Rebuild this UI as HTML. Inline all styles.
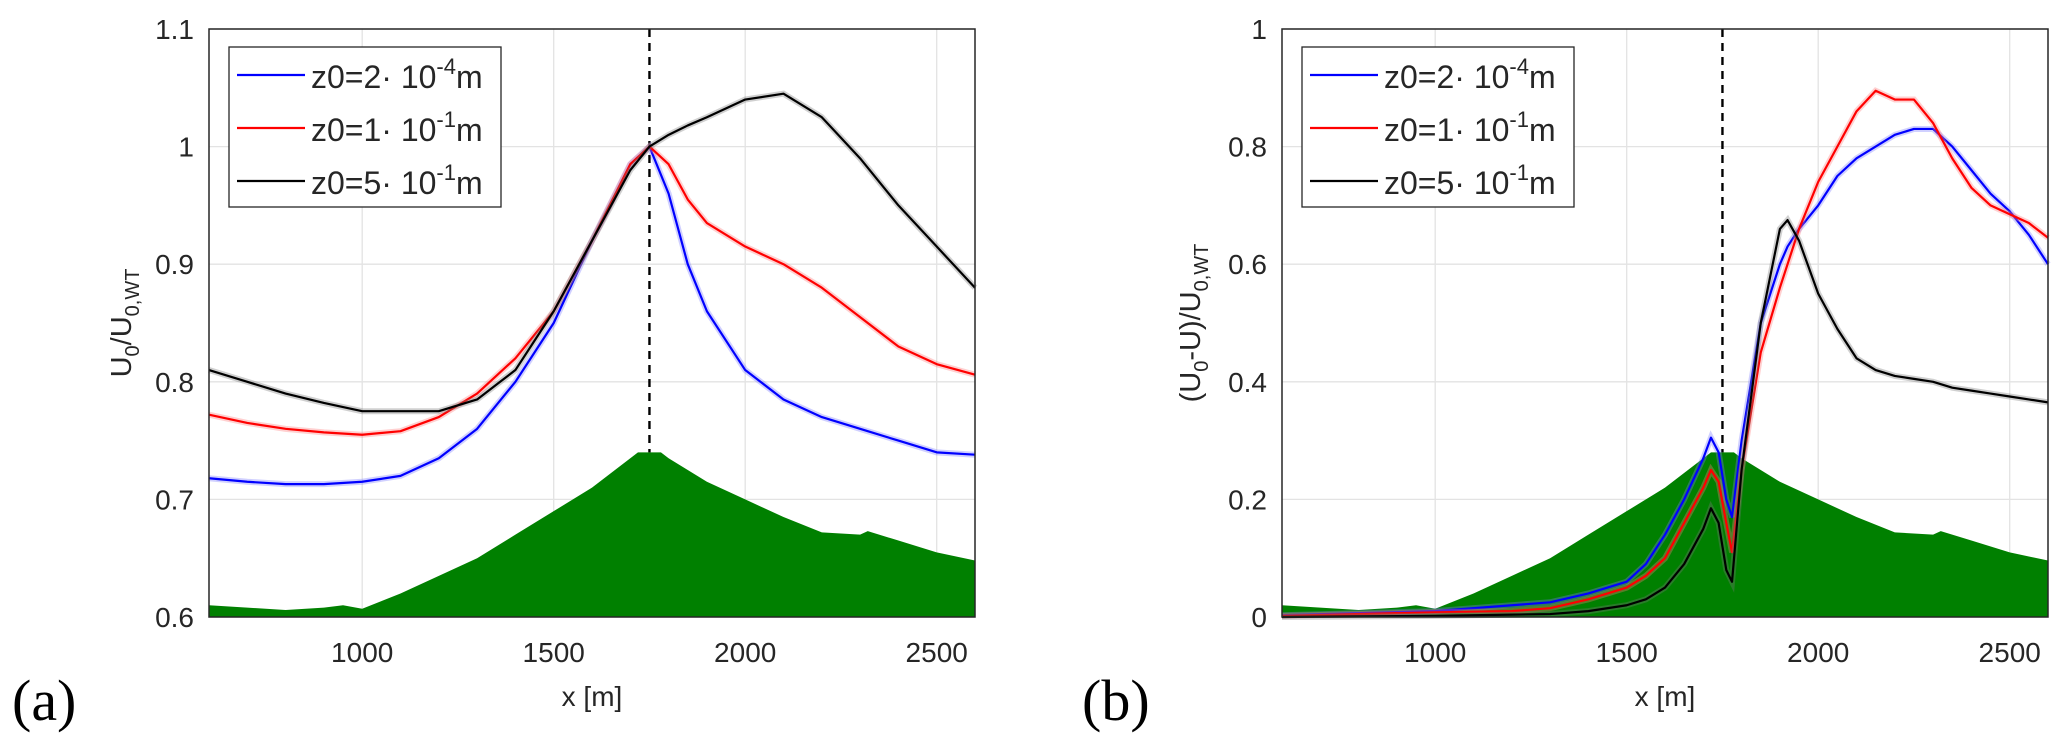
<!DOCTYPE html>
<html><head><meta charset="utf-8"><style>
body{margin:0;background:#fff}
svg text{font-family:"Liberation Sans",sans-serif;fill:#262626}
</style></head><body>
<svg id="c" width="2067" height="749" xmlns="http://www.w3.org/2000/svg"></svg>
<script>
const xVals=[600,700,800,900,1000,1100,1200,1300,1400,1500,1600,1700,1750,1800,1850,1900,2000,2100,2200,2300,2400,2500,2600];
const aBlue=[0.718,0.715,0.713,0.713,0.715,0.72,0.735,0.76,0.80,0.85,0.92,0.985,1.0,0.96,0.90,0.86,0.81,0.785,0.77,0.76,0.75,0.74,0.738];
const aRed=[0.772,0.765,0.76,0.757,0.755,0.758,0.77,0.79,0.82,0.86,0.92,0.985,1.0,0.985,0.955,0.935,0.915,0.90,0.88,0.855,0.83,0.815,0.806];
const aBlack=[0.81,0.80,0.79,0.782,0.775,0.775,0.775,0.785,0.81,0.86,0.92,0.98,1.0,1.01,1.018,1.025,1.04,1.045,1.025,0.99,0.95,0.915,0.88];
const bX=[600,1000,1200,1300,1400,1500,1550,1600,1650,1700,1720,1740,1760,1775,1800,1850,1900,1920,1950,2000,2050,2100,2150,2200,2250,2300,2350,2400,2450,2500,2550,2600];
const bBlue=[0.003,0.01,0.02,0.025,0.04,0.06,0.09,0.14,0.2,0.27,0.305,0.28,0.2,0.17,0.3,0.5,0.6,0.63,0.66,0.7,0.75,0.78,0.8,0.82,0.83,0.83,0.8,0.76,0.72,0.69,0.65,0.6];
const bRed=[0.002,0.008,0.01,0.015,0.03,0.05,0.07,0.1,0.16,0.22,0.25,0.23,0.16,0.11,0.25,0.45,0.56,0.6,0.66,0.74,0.8,0.86,0.895,0.88,0.88,0.84,0.78,0.73,0.7,0.685,0.67,0.645];
const bBlack=[0,0.002,0.004,0.005,0.01,0.02,0.03,0.05,0.09,0.15,0.185,0.16,0.08,0.06,0.25,0.5,0.66,0.675,0.64,0.55,0.49,0.44,0.42,0.41,0.405,0.4,0.39,0.385,0.38,0.375,0.37,0.365];
const tX=[600,700,800,900,950,1000,1100,1200,1300,1400,1500,1600,1700,1720,1780,1800,1900,2000,2100,2200,2300,2320,2400,2500,2600];
const tH=[0.61,0.608,0.606,0.608,0.61,0.607,0.62,0.635,0.65,0.67,0.69,0.71,0.735,0.74,0.74,0.735,0.715,0.70,0.685,0.672,0.67,0.673,0.665,0.655,0.648];
const xTicks=[1000,1500,2000,2500];
const aTicks=[0.6,0.7,0.8,0.9,1,1.1];
const bTicks=[0,0.2,0.4,0.6,0.8,1];
const peakX=1750;
const NS="http://www.w3.org/2000/svg";
const svg=document.getElementById('c');
function el(t,a,p){const e=document.createElementNS(NS,t);for(const k in a)e.setAttribute(k,a[k]);(p||svg).appendChild(e);return e;}
function panel(L,ymin,ymax,yTicks,series,xs,terr,label,ylabelHtml,tag,ylx){
  const R=L+766,T=29,B=617;
  const sx=x=>L+(x-600)/2000*766, sy=v=>B-(v-ymin)/(ymax-ymin)*(B-T);
  const g=el('g',{});
  
  
  xTicks.forEach(t=>{const l=el('line',{x1:sx(t),x2:sx(t),y1:T,y2:B,stroke:'#e3e3e3','stroke-width':1.3},g);
    
    const tx=el('text',{x:sx(t),y:662,'font-size':28,'text-anchor':'middle'},g);tx.textContent=t;
    });
  yTicks.forEach(t=>{const l=el('line',{x1:L,x2:R,y1:sy(t),y2:sy(t),stroke:'#e3e3e3','stroke-width':1.3},g);
    
    const tx=el('text',{x:L-15,y:sy(t)+10,'font-size':28,'text-anchor':'end'},g);tx.textContent=String(t);
    });
  let d='M'+sx(terr[0].x)+','+B;terr.forEach(p=>d+='L'+sx(p.x)+','+sy(p.v));d+='L'+sx(2600)+','+B+'Z';
  const tp=el('path',{d:d,fill:'#008000'},g);
  
  const peakV=terr.reduce((m,p)=>Math.max(m,p.v),-1);
  const dl=el('line',{x1:sx(peakX),x2:sx(peakX),y1:T,y2:sy(peakV),stroke:'#000','stroke-width':2.4,'stroke-dasharray':'8,6'},g);
  
  series.forEach(s=>{const pts=xs.map((x,i)=>sx(x)+','+sy(s.v[i])).join(' ');
    const band=el('polyline',{points:pts,fill:'none',stroke:s.band,'stroke-width':6,'stroke-opacity':0.35},g);
    
    const ln=el('polyline',{points:pts,fill:'none',stroke:s.c,'stroke-width':2.2,'stroke-linejoin':'round'},g);
    });
  const box=el('rect',{x:L,y:T,width:766,height:B-T,fill:'none',stroke:'#262626','stroke-width':1.5},g);
  
  const lg=el('g',{},g);
  el('rect',{x:L+20,y:47,width:272,height:160,fill:'#fff',stroke:'#262626','stroke-width':1.3},lg);
  const labs=[['2','-4'],['1','-1'],['5','-1']];
  series.forEach((s,i)=>{const y=75+i*53;
    const e=el('g',{},lg);
    el('line',{x1:L+28,x2:L+96,y1:y,y2:y,stroke:s.c,'stroke-width':2.2},e);
    const t=el('text',{x:L+102,y:y+13,'font-size':32},e);
    t.innerHTML='z0='+labs[i][0]+'· 10<tspan dy="-14" font-size="22">'+labs[i][1]+'</tspan><tspan dy="14">m</tspan>';});
  const xl=el('text',{x:L+383,y:706,'font-size':28,'text-anchor':'middle'},g);xl.textContent='x [m]';
  
  const yl=el('text',{x:0,y:0,'font-size':29,'text-anchor':'middle',transform:'translate('+ylx+','+(T+B)/2+') rotate(-90)'},g);
  yl.innerHTML=ylabelHtml;
  const pl=el('text',{x:label.x,y:720,'font-size':58,style:'font-family:"Liberation Serif",serif;fill:#000'},g);
  pl.textContent=label.t;
}
const terrA=tX.map((x,i)=>({x:x,v:tH[i]}));
const terrB=tX.map((x,i)=>({x:x,v:(tH[i]-0.6)*2}));
panel(209,0.6,1.1,aTicks,[{name:'z0-2e-4',c:'#0000ff',band:'#7777ff',v:aBlue},{name:'z0-1e-1',c:'#ff0000',band:'#ff7777',v:aRed},{name:'z0-5e-1',c:'#000',band:'#777',v:aBlack}],xVals,terrA,{t:'(a)',x:12},'U<tspan dy="8" font-size="20">0</tspan><tspan dy="-8">/U</tspan><tspan dy="8" font-size="20">0,WT</tspan>','panel-a',131);
panel(1282,0,1,bTicks,[{name:'z0-2e-4',c:'#0000ff',band:'#7777ff',v:bBlue},{name:'z0-1e-1',c:'#ff0000',band:'#ff7777',v:bRed},{name:'z0-5e-1',c:'#000',band:'#777',v:bBlack}],bX,terrB,{t:'(b)',x:1082},'(U<tspan dy="8" font-size="20">0</tspan><tspan dy="-8">-U)/U</tspan><tspan dy="8" font-size="20">0,WT</tspan>','panel-b',1200);
</script>
</body></html>
